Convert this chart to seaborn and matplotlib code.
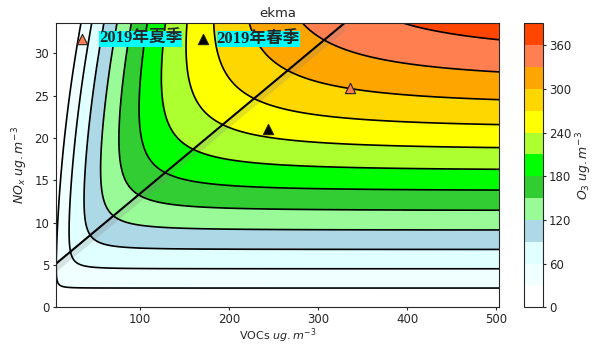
import numpy as np
import seaborn as sns
import matplotlib
matplotlib.use('Agg')
import matplotlib.pyplot as plt

# O3 levels and the colour of each band
levels = list(range(0, 391, 30))
fill_colors = ['white', 'azure', 'lightcyan', 'lightblue', 'palegreen', 'limegreen',
               'lime', 'greenyellow', 'yellow', 'gold', 'orange', 'coral', 'orangered']
cbar_ticks = [0, 60, 120, 180, 240, 300, 360]

# isopleth surface, parameters
nox_slope = 13.2      # O3 per NOx on the NOx-limited side
voc_max = 555.0       # VOC-limited O3 ceiling
voc_scale = 226.0
voc_start = 20.0      # quick first rise at low VOC
voc_start_scale = 2.0
voc_offset = 0.0255   # VOC taken up per NOx^2 before O3 builds
smooth_p = 3.0

voc_range = [5, 503]
nox_range = [0, 33.5]

# ridge line
ridge_voc = [5, 330]
ridge_nox = [5.1, 33.6]

# observed points
season_names = ['2019年夏季', '2019年春季']
season_colors = ['coral', 'black']
point_voc = [336, 243.5]
point_nox = [25.9, 21.0]
key_voc = [34.5, 171]
key_nox = [31.7, 31.7]
label_voc = [54, 186]

sns.set_style('ticks')
plt.rcParams['font.family'] = ['DejaVu Sans', 'Noto Sans CJK SC']
plt.rcParams['xtick.major.size'] = 2.5
plt.rcParams['ytick.major.size'] = 2.5
plt.rcParams['xtick.major.pad'] = 1.5
plt.rcParams['ytick.major.pad'] = 2

voc = np.linspace(voc_range[0], voc_range[1], 500)
nox = np.linspace(nox_range[0], nox_range[1], 400)
V, N = np.meshgrid(voc, nox)
u = np.maximum(V - voc_offset * N ** 2, 0)
a_part = np.maximum(nox_slope * N, 1e-6)
b_part = voc_max * (1 - np.exp(-u / voc_scale)) + voc_start * (1 - np.exp(-u / voc_start_scale))
b_part = np.maximum(b_part, 1e-6)
o3 = (a_part ** -smooth_p + b_part ** -smooth_p) ** (-1 / smooth_p)

fig = plt.figure(figsize=(5.99, 3.44), dpi=100)
ax = fig.add_axes([0.0927, 0.1067, 0.7404, 0.825])
cax = fig.add_axes([0.8753, 0.1067, 0.0307, 0.825])

cf = ax.contourf(V, N, o3, levels=levels, colors=fill_colors)
ax.contour(V, N, o3, levels=levels[1:], colors='black', linewidths=1.2)

rn = np.array(ridge_nox)
ax.fill_between(ridge_voc, rn - 0.9, rn + 0.15, color='grey', alpha=0.22, lw=0)
ax.plot(ridge_voc, ridge_nox, color='black', lw=1.5)

for i, name in enumerate(season_names):
    sns.scatterplot(x=[point_voc[i], key_voc[i]], y=[point_nox[i], key_nox[i]],
                    marker='^', s=55, color=season_colors[i], edgecolor='#222222',
                    linewidth=0.8, ax=ax, legend=False, zorder=5)
    ax.text(label_voc[i], key_nox[i], name, va='center', ha='left', fontsize=12,
            fontweight='bold', family=['Liberation Serif', 'Noto Sans CJK SC'],
            bbox=dict(facecolor='cyan', edgecolor='none', pad=0), zorder=6)

ax.set_xlim(voc_range)
ax.set_ylim(nox_range)
ax.set_title('ekma', fontsize=9.5, pad=5)
ax.set_xlabel('VOCs $ug.m^{-3}$', fontsize=8)
ax.xaxis.set_label_coords(0.5, -0.066)
ax.set_ylabel('$NO_x$ $ug.m^{-3}$', fontsize=9, labelpad=3)
ax.tick_params(labelsize=8.5)

cb = fig.colorbar(cf, cax=cax, ticks=cbar_ticks)
cb.set_label('$O_3$ $ug.m^{-3}$', fontsize=9, labelpad=2)
cb.ax.tick_params(labelsize=8.5)

fig.savefig('out.png', dpi=100)
